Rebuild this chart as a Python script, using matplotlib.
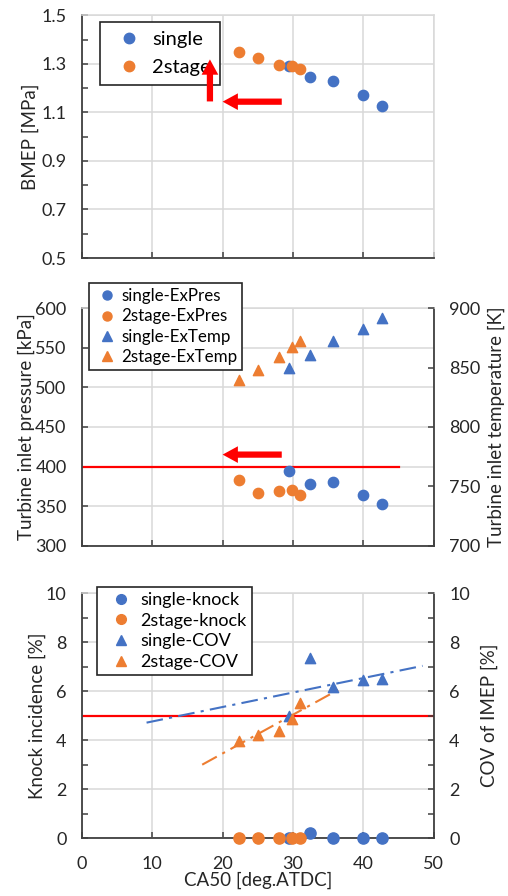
import matplotlib.pyplot as plt
import matplotlib.ticker as mticker
import numpy as np
from matplotlib.lines import Line2D

plt.rcParams['font.family'] = ['Lato', 'DejaVu Sans']

blue = '#4472C4'
orange = '#ED7D31'
grid_c = '#D9D9D9'
axis_c = '#404040'
text_c = '#262626'

# CA50 [deg.ATDC]
ca50_single = [29.4, 32.4, 35.7, 39.9, 42.6]
ca50_2stage = [22.3, 25.0, 28.0, 29.8, 31.0]

# BMEP [MPa]
bmep_single = [1.292, 1.244, 1.231, 1.171, 1.125]
bmep_2stage = [1.347, 1.323, 1.295, 1.289, 1.280]

# turbine inlet pressure [kPa] / temperature [K]
pres_single = [394, 377.5, 380, 364, 353]
pres_2stage = [383, 366.5, 369.5, 370.5, 364.5]
temp_single = [849.5, 860.7, 872.8, 882.3, 892.1]
temp_2stage = [839.7, 848.1, 858.5, 867.5, 872.5]

# knock incidence [%] / COV of IMEP [%]
knock_single = [0, 0.22, 0, 0, 0]
knock_2stage = [0, 0, 0, 0, 0]
cov_single = [4.99, 7.38, 6.18, 6.45, 6.52]
cov_2stage = [3.97, 4.23, 4.39, 4.88, 5.54]

pres_limit = 400
cov_limit = 5

fig = plt.figure(figsize=(5.08, 8.96), dpi=100)
L, W = 0.161, 0.693
ax1 = fig.add_axes([L, 0.712, W, 0.271])
ax2 = fig.add_axes([L, 0.391, W, 0.265])
ax3 = fig.add_axes([L, 0.0647, W, 0.273])

ms = 55
tick_fs = 13


def style(ax, right_dark=False):
    ax.set_xlim(0, 50)
    ax.xaxis.set_major_locator(mticker.MultipleLocator(10))
    ax.grid(True, color=grid_c, lw=1.1)
    ax.set_axisbelow(True)
    for s in ['left', 'bottom']:
        ax.spines[s].set_color(axis_c)
        ax.spines[s].set_linewidth(1.3)
    ax.spines['top'].set_color(grid_c)
    ax.spines['top'].set_linewidth(1.1)
    if right_dark:
        ax.spines['right'].set_color(axis_c)
        ax.spines['right'].set_linewidth(1.3)
    else:
        ax.spines['right'].set_color(grid_c)
        ax.spines['right'].set_linewidth(1.1)
    ax.tick_params(which='both', direction='in', colors=axis_c, labelcolor=text_c,
                   labelsize=tick_fs, length=4, width=1.1)
    ax.tick_params(axis='y', pad=11)
    ax.tick_params(axis='x', pad=13)


def style_right(ax):
    ax.tick_params(which='both', direction='in', colors=axis_c, labelcolor=text_c,
                   labelsize=tick_fs, length=4, width=1.1, pad=11)
    for s in ax.spines.values():
        s.set_visible(False)


def arrow(ax, start, end):
    ax.annotate('', xy=end, xytext=start, zorder=10,
                arrowprops=dict(arrowstyle='simple,head_width=1.2,head_length=1.1,tail_width=0.45',
                                color='red', lw=0, shrinkA=0, shrinkB=0))


def handles(markers, size):
    return [Line2D([], [], ls='', marker=m, ms=size, color=c) for m, c in markers]


def legend(ax, hs, labels, anchor, fs, hl, pad=0.3, spacing=0.2, textpad=0.1):
    leg = ax.legend(hs, labels, loc='upper left', bbox_to_anchor=anchor,
                    bbox_transform=fig.transFigure, borderaxespad=0, fontsize=fs,
                    frameon=True, fancybox=False, edgecolor=text_c, framealpha=1,
                    handletextpad=textpad, borderpad=pad, labelspacing=spacing,
                    handlelength=hl)
    leg.get_frame().set_linewidth(1.2)
    return leg


# --- BMEP ---
style(ax1)
ax1.set_ylim(0.5, 1.5)
ax1.yaxis.set_minor_locator(mticker.MultipleLocator(0.1))
ax1.set_yticks([0.5, 0.7, 0.9, 1.1, 1.3, 1.5])
ax1.yaxis.set_major_formatter(mticker.FormatStrFormatter('%.1f'))
ax1.tick_params(axis='x', labelbottom=False)
ax1.scatter(ca50_single, bmep_single, s=ms, color=blue, zorder=3)
ax1.scatter(ca50_2stage, bmep_2stage, s=ms, color=orange, zorder=3)
ax1.set_ylabel('BMEP [MPa]', fontsize=13.5, color=text_c, labelpad=2)
arrow(ax1, (28.4, 1.144), (20.0, 1.144))
arrow(ax1, (18.2, 1.145), (18.2, 1.318))
leg1 = legend(ax1, handles([('o', blue), ('o', orange)], 7.5), ['single', '2stage'],
              (0.197, 0.976), 14.5, 2.0, pad=0.45, spacing=0.55, textpad=0.15)
leg1.set_zorder(5)

# --- turbine inlet pressure / temperature ---
style(ax2, right_dark=True)
ax2.set_ylim(300, 600)
ax2.yaxis.set_major_locator(mticker.MultipleLocator(50))
ax2.tick_params(axis='x', labelbottom=False)
ax2.axhline(pres_limit, xmax=45 / 50, color='red', lw=1.6, zorder=2)
ax2.scatter(ca50_single, pres_single, s=ms, color=blue, zorder=3)
ax2.scatter(ca50_2stage, pres_2stage, s=ms, color=orange, zorder=3)
ax2.set_ylabel('Turbine inlet pressure [kPa]', fontsize=13.5, color=text_c, labelpad=0)
ax2r = ax2.twinx()
ax2r.set_ylim(700, 900)
ax2r.yaxis.set_major_locator(mticker.MultipleLocator(50))
style_right(ax2r)
ax2r.scatter(ca50_single, temp_single, s=ms, marker='^', color=blue, zorder=3)
ax2r.scatter(ca50_2stage, temp_2stage, s=ms, marker='^', color=orange, zorder=3)
ax2r.set_ylabel('Turbine inlet temperature [K]', fontsize=13.5, color=text_c, labelpad=5)
arrow(ax2r, (28.4, 776.7), (20.0, 776.7))
legend(ax2r, handles([('o', blue), ('o', orange), ('^', blue), ('^', orange)], 6.5),
       ['single-ExPres', '2stage-ExPres', 'single-ExTemp', '2stage-ExTemp'],
       (0.175, 0.684), 12.2, 1.5, spacing=0.25)

# --- knock / COV ---
style(ax3, right_dark=True)
ax3.set_ylim(0, 10)
ax3.yaxis.set_major_locator(mticker.MultipleLocator(2))
ax3.yaxis.set_minor_locator(mticker.MultipleLocator(1))
ax3.axhline(cov_limit, color='red', lw=1.6, zorder=2)
ax3.set_ylabel('Knock incidence [%]', fontsize=13.5, color=text_c, labelpad=0)
ax3.set_xlabel('CA50 [deg.ATDC]', fontsize=13.5, color=text_c, labelpad=0)
ax3r = ax3.twinx()
ax3r.set_ylim(0, 10)
ax3r.yaxis.set_major_locator(mticker.MultipleLocator(2))
ax3r.yaxis.set_minor_locator(mticker.MultipleLocator(1))
style_right(ax3r)
ax3r.scatter(ca50_single, knock_single, s=ms + 10, color=blue, zorder=4, clip_on=False)
ax3r.scatter(ca50_2stage, knock_2stage, s=ms + 10, color=orange, zorder=4, clip_on=False)
ax3r.scatter(ca50_single, cov_single, s=ms, marker='^', color=blue, zorder=3)
ax3r.scatter(ca50_2stage, cov_2stage, s=ms, marker='^', color=orange, zorder=3)
# linear trend lines, extended forward/backward like a spreadsheet trendline
for xs, ys, rng, c in [(ca50_single, cov_single, (9.2, 48.4), blue),
                       (ca50_2stage, cov_2stage, (17.1, 36.4), orange)]:
    k, b = np.polyfit(xs, ys, 1)
    xx = np.array(rng)
    ax3r.plot(xx, k * xx + b, color=c, lw=1.5, ls=(0, (8, 3, 1.5, 3)), zorder=2)
ax3r.set_ylabel('COV of IMEP [%]', fontsize=13.5, color=text_c, labelpad=8)
legend(ax3r, handles([('o', blue), ('o', orange), ('^', blue), ('^', orange)], 7),
       ['single-knock', '2stage-knock', 'single-COV', '2stage-COV'],
       (0.191, 0.345), 13, 2.0, spacing=0.25)

fig.savefig('out.png', dpi=100)
